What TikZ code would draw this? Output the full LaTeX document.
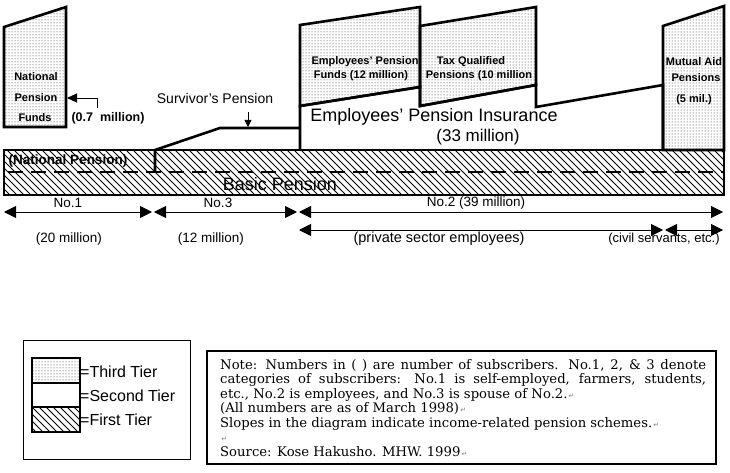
\documentclass[tikz,border=0pt]{standalone}
\usepackage{fontspec}
\setmainfont{Liberation Sans}
\newfontfamily\notefont{DejaVu Serif}
\newfontfamily\symfont{DejaVu Sans}
\usetikzlibrary{patterns,arrows.meta}
\newcommand{\parmk}{{\symfont\color{gray}\fontsize{7}{7}\selectfont\,↵}}
\tikzset{
  outl/.style={line width=2.6pt, line join=miter},
  dotfill/.style={pattern=dots, pattern color=black!85},
  hatchline/.style={line width=1pt},
  dimarrow/.style={line width=0.9pt, {Triangle[length=12pt,width=12pt]}-{Triangle[length=12pt,width=12pt]}},
  boxlbl/.style={font=\bfseries\fontsize{11}{12}\selectfont, inner sep=0pt},
  rowlbl/.style={font=\fontsize{13.5}{15}\selectfont, inner sep=0pt},
  leglbl/.style={font=\fontsize{16}{18}\selectfont, inner sep=0pt, anchor=west},
  noteline/.style={font=\notefont\fontsize{13.2}{14.5}\selectfont, inner sep=0pt, anchor=base west},
}
\begin{document}
\begin{tikzpicture}[x=1pt,y=-1pt]
\useasboundingbox (0,0) rectangle (730,473);

% ---------- third tier boxes ----------
\filldraw[dotfill, outl] (4,27) -- (66,7) -- (66,127) -- (4,127) -- cycle;
\filldraw[dotfill, outl] (300,25) -- (420,7) -- (420,87) -- (300,106) -- cycle;
\filldraw[dotfill, outl] (420,26) -- (536,7) -- (536,85) -- (420,106) -- cycle;
\filldraw[dotfill, outl] (663,26) -- (724,6) -- (724,150) -- (663,150) -- cycle;

% ---------- second tier outline ----------
\draw[outl] (300,150) -- (300,106) -- (420,87) -- (420,106) -- (536,85) -- (536,107) -- (663,85) -- (663,150);
\draw[outl] (155,172) -- (155,150) -- (220,128) -- (300,128);

% ---------- first tier band ----------
\begin{scope}
  \clip (4,150) rectangle (724,195);
  \foreach \hx in {-42,-35,...,724} { \draw[hatchline] (\hx,150) -- ++(45,45); }
\end{scope}
\draw[outl] (4,150) rectangle (724,195);
\draw[line width=2.6pt, dash pattern=on 15pt off 8pt] (8,172) -- (724,172);
\node[font=\bfseries\fontsize{13.5}{15}\selectfont, inner sep=0pt] (natp) at (68,161) {(National Pension)};
\node[font=\fontsize{18}{20}\selectfont, inner sep=0pt] (basic) at (280,184) {Basic Pension};

% ---------- labels in boxes ----------
\node[boxlbl] (npf1) at (36,77) {National};
\node[boxlbl] (npf2) at (36,98) {Pension};
\node[boxlbl] (npf3) at (35,118) {Funds};
\node[boxlbl] (epf1) at (365,62) {Employees' Pension};
\node[boxlbl] (epf2) at (361,76) {Funds (12 million)};
\node[boxlbl] (tqp1) at (471,62) {Tax Qualified};
\node[boxlbl] (tqp2) at (479,76) {Pensions (10 million};
\node[boxlbl] (mut1) at (694,62) {Mutual Aid};
\node[boxlbl] (mut2) at (696,78) {Pensions};
\node[boxlbl] (mut3) at (694,100) {(5 mil.)};

\node[font=\bfseries\fontsize{12.5}{14}\selectfont, inner sep=0pt] (npfn) at (108,118) {(0.7~~million)};
\coordinate (npfA) at (97,108);
\coordinate (npfB) at (97,98);
\coordinate (npfC) at (67,98);
\draw[line width=0.9pt, -{Triangle[length=10pt,width=9pt]}] (npfA) -- (npfB) -- (npfC);

\node[font=\fontsize{14}{16}\selectfont, inner sep=0pt] (surv) at (215,98) {Survivor's Pension};
\coordinate (survA) at (248,112);
\coordinate (survB) at (248,127);
\draw[line width=0.9pt, -{Triangle[length=7pt,width=7pt]}] (survA) -- (survB);

\node[font=\fontsize{18}{20}\selectfont, inner sep=0pt] (epi) at (434,117) {Employees’ Pension Insurance};
\node[font=\fontsize{17}{19}\selectfont, inner sep=0pt] (epin) at (478,137) {(33 million)};

% ---------- category arrows ----------
\coordinate (r1a) at (4,212);
\coordinate (r1b) at (152,212);
\coordinate (r1c) at (154,212);
\coordinate (r1d) at (297,212);
\coordinate (r1e) at (299,212);
\coordinate (r1f) at (723,212);
\coordinate (r2a) at (299,230);
\coordinate (r2b) at (663,230);
\coordinate (r2c) at (665,230);
\coordinate (r2d) at (723,230);
\draw[dimarrow] (r1a) -- (r1b);
\draw[dimarrow] (r1c) -- (r1d);
\draw[dimarrow] (r1e) -- (r1f);
\draw[dimarrow] (r2a) -- (r2b);
\draw[dimarrow] (r2c) -- (r2d);

\node[rowlbl] (no1) at (68,203) {No.1};
\node[rowlbl] (no3) at (218,203) {No.3};
\node[rowlbl] (no2) at (476,203) {No.2 (39 million)};
\node[rowlbl] (m20) at (69,239) {(20 million)};
\node[rowlbl] (m12) at (211,239) {(12 million)};
\node[font=\fontsize{14.5}{16}\selectfont, inner sep=0pt] (priv) at (439,239) {(private sector employees)};
\node[font=\fontsize{13}{15}\selectfont, inner sep=0pt] (civ) at (664,239) {(civil servants, etc.)};

% ---------- legend ----------
\draw[line width=1pt] (23,340) rectangle (190,459);
\filldraw[dotfill, outl] (32,358) rectangle (80,383);
\draw[outl] (32,383) rectangle (80,407);
\begin{scope}
  \clip (32,407) rectangle (80,432);
  \foreach \hx in {4,11,...,80} { \draw[hatchline] (\hx,407) -- ++(25,25); }
\end{scope}
\draw[outl] (32,407) rectangle (80,432);
\node[leglbl] (lg3) at (80,372) {=Third Tier};
\node[leglbl] (lg2) at (80,396) {=Second Tier};
\node[leglbl] (lg1) at (80,420) {=First Tier};

% ---------- note ----------
\draw[line width=1.2pt] (207,351) rectangle (716,464);
\node[noteline] (note1) at (220,369) {\makebox[486pt][s]{Note: Numbers in ( ) are number of subscribers. No.1, 2, \& 3 denote}};
\node[noteline] (note2) at (220,383.5) {\makebox[486pt][s]{categories of subscribers: No.1 is self-employed, farmers, students,}};
\node[noteline] (note3) at (220,398) {etc., No.2 is employees, and No.3 is spouse of No.2.\parmk};
\node[noteline] (note4) at (220,412.5) {(All numbers are as of March 1998)\parmk};
\node[noteline] (note5) at (220,427) {Slopes in the diagram indicate income-related pension schemes.\parmk};
\node[noteline] (note6) at (220,441.5) {\parmk};
\node[noteline] (note7) at (220,456) {Source: Kose Hakusho. MHW. 1999\parmk};
\end{tikzpicture}
\end{document}
